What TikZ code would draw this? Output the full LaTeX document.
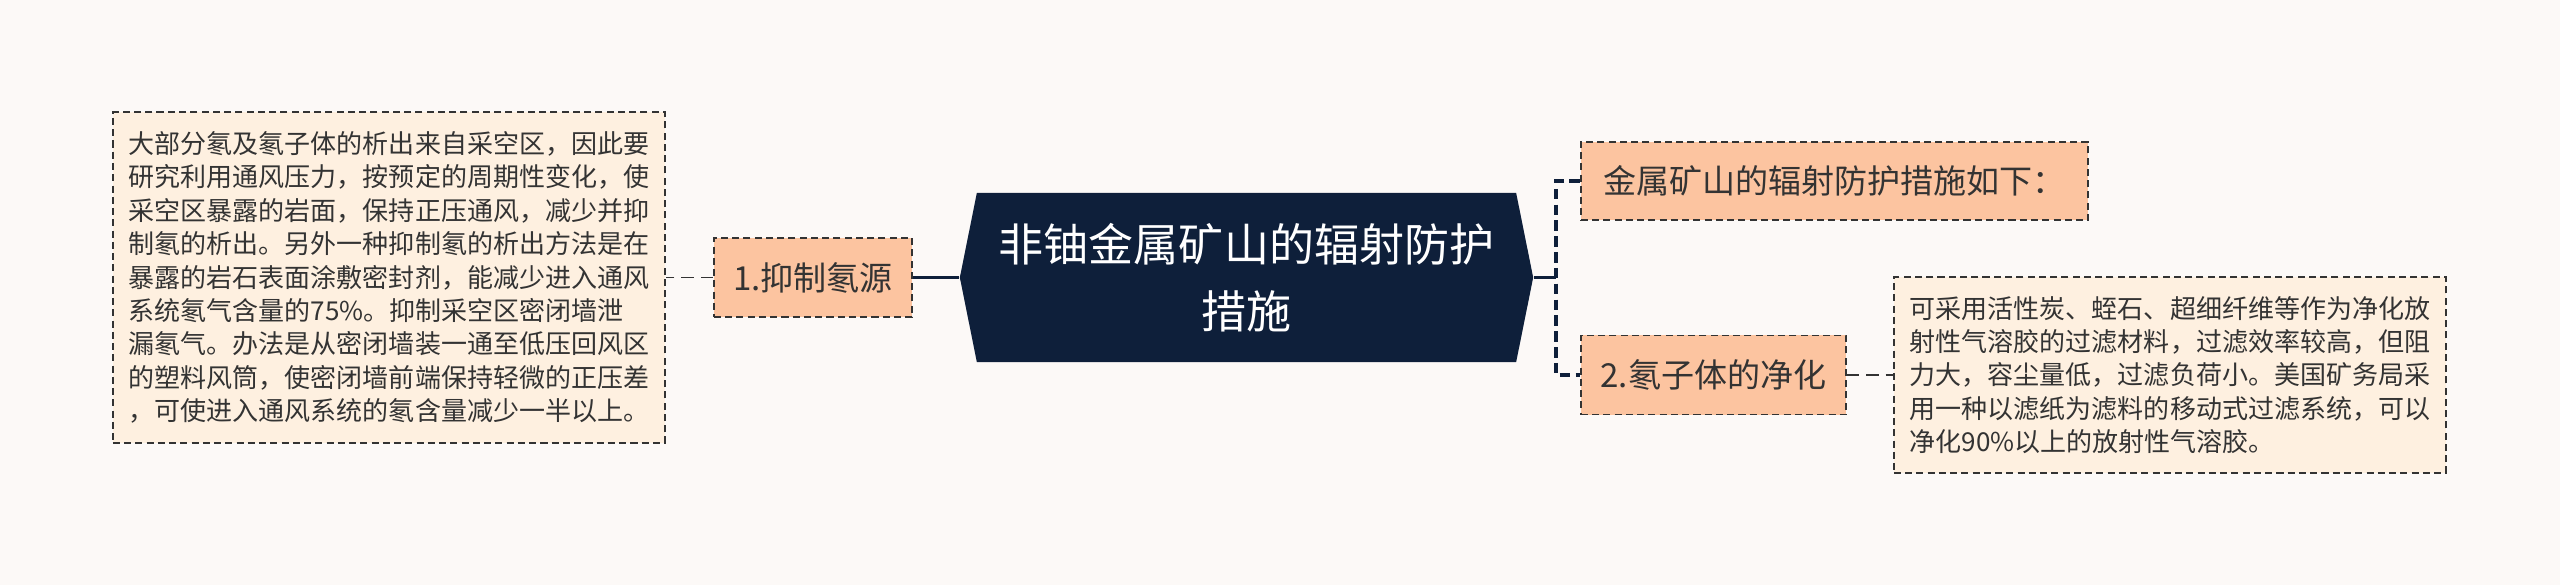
\documentclass[tikz,border=0pt]{standalone}
\usepackage{fontspec}
\setmainfont{Noto Sans CJK SC}

\definecolor{pagebg}{HTML}{FCF9F7}
\definecolor{notefill}{HTML}{FEF0E0}
\definecolor{branchfill}{HTML}{FCC4A0}
\definecolor{rootfill}{HTML}{0E1F3A}
\definecolor{inkgray}{HTML}{333333}

\tikzset{
  note/.style={draw=inkgray, line width=0.55pt, dash pattern=on 2pt off 1.2pt, fill=notefill,
    text=inkgray, align=left, inner sep=0pt, font=\fontsize{7.4}{9.5}\selectfont},
  branch/.style={draw=inkgray, line width=0.55pt, dash pattern=on 2pt off 1.2pt, fill=branchfill,
    text=inkgray, align=center, inner sep=0pt, font=\fontsize{9.4}{12}\selectfont},
  root/.style={rectangle, fill=pagebg, minimum width=5.73cm, minimum height=1.69cm, inner sep=0pt,
    text=white, align=center, font=\fontsize{12.8}{19}\selectfont,
    path picture={\fill[rootfill] (path picture bounding box.west)
      -- ([xshift=0.17cm]path picture bounding box.north west)
      -- ([xshift=-0.17cm]path picture bounding box.north east)
      -- (path picture bounding box.east)
      -- ([xshift=-0.17cm]path picture bounding box.south east)
      -- ([xshift=0.17cm]path picture bounding box.south west) -- cycle;}},
  link/.style={draw=inkgray, line width=0.55pt, dash pattern=on 3.5pt off 2pt},
  trunk/.style={draw=rootfill, line width=1.1pt},
  forkline/.style={draw=rootfill, line width=1pt, dash pattern=on 3pt off 1.5pt}
}

\begin{document}
\begin{tikzpicture}[x=0.01cm, y=-0.01cm]
% page
\fill[pagebg] (0,0) rectangle (2560,585);

% central topic
\node[root] (root) at (1246.5,277.5) {非铀金属矿山的辐射防护\\措施};

% left branch
\node[branch, minimum width=1.98cm, minimum height=0.79cm] (radon) at (813,277.5) {1.抑制氡源};
\node[note, minimum width=5.52cm, minimum height=3.30cm] (radonnote) at (389,277.5) {
    大部分氡及氡子体的析出来自采空区，因此要\\
    研究利用通风压力，按预定的周期性变化，使\\
    采空区暴露的岩面，保持正压通风，减少并抑\\
    制氡的析出。另外一种抑制氡的析出方法是在\\
    暴露的岩石表面涂敷密封剂，能减少进入通风\\
    系统氡气含量的75\%。抑制采空区密闭墙泄\\
    漏氡气。办法是从密闭墙装一通至低压回风区\\
    的塑料风筒，使密闭墙前端保持轻微的正压差\\
    ，可使进入通风系统的氡含量减少一半以上。
};

% right branches
\node[branch, minimum width=5.07cm, minimum height=0.78cm] (intro) at (1834.5,181) {金属矿山的辐射防护措施如下：};
\node[branch, minimum width=2.65cm, minimum height=0.79cm] (purify) at (1713.5,375) {2.氡子体的净化};
\node[note, minimum width=5.52cm, minimum height=1.95cm] (purifynote) at (2170,375) {
    可采用活性炭、蛭石、超细纤维等作为净化放\\
    射性气溶胶的过滤材料，过滤效率较高，但阻\\
    力大，容尘量低，过滤负荷小。美国矿务局采\\
    用一种以滤纸为滤料的移动式过滤系统，可以\\
    净化90\%以上的放射性气溶胶。
};

% connectors
\coordinate (split) at (1556,277.5);
\draw[trunk] (root.west) -- (radon.east);
\draw[link] (radon.west) -- (radonnote.east);
\draw[trunk] (root.east) -- (split);
\draw[forkline] (intro.west) -| (split) |- (purify.west);
\draw[link] (purify.east) -- (purifynote.west);

\end{tikzpicture}
\end{document}
